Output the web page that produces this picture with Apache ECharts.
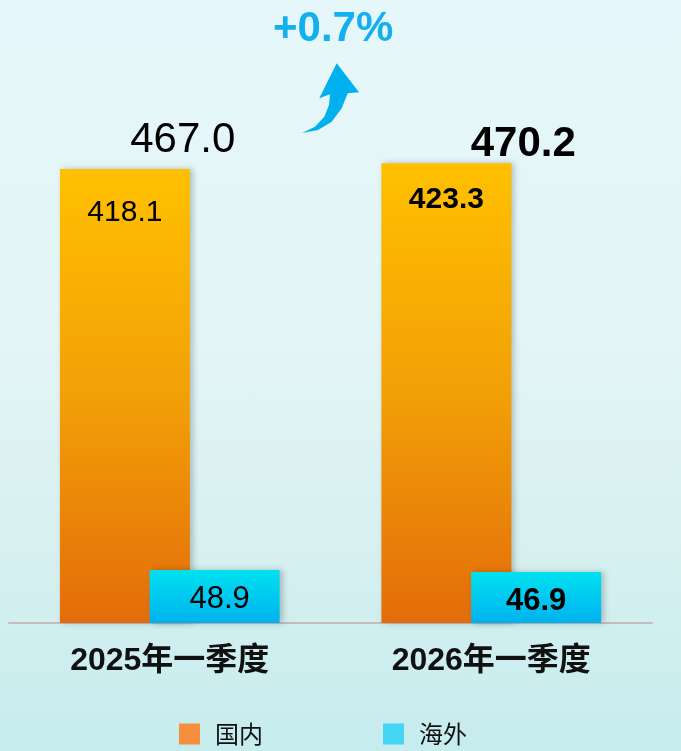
<!DOCTYPE html>
<html>
<head>
    <meta charset="utf-8">
    <title>ECharts</title>
    <script src="https://cdn.jsdelivr.net/npm/echarts@6/dist/echarts.min.js"></script>
    <style>
        html, body { margin: 0; padding: 0; }
        #main {
            width: 681px; height: 751px;
            background: linear-gradient(180deg, #e6f7fb 0%, #e3f5f4 45%, #d6f0f0 75%, #c6ecee 100%);
        }
    </style>
</head>
<body>
    <div id="main"></div>
    <script type="text/javascript">
        // 数据
        var categories = ['2025年一季度', '2026年一季度'];
        var domestic = [418.1, 423.3];
        var overseas = [48.9, 46.9];
        var totals = [467.0, 470.2];
        var growth = '+0.7%';

        var numFont = 'Liberation Sans, Arial, Helvetica, sans-serif';
        var cjkFont = 'Liberation Sans, Noto Sans CJK SC, sans-serif';

        var myChart = echarts.init(document.getElementById('main'));

        function vGradient(stops) {
            return { type: 'linear', x: 0, y: 0, x2: 0, y2: 1, colorStops: stops };
        }
        var orangeFill = vGradient([
            { offset: 0, color: '#ffc000' },
            { offset: 0.5, color: '#f2a007' },
            { offset: 1, color: '#e36c0a' }
        ]);
        var cyanFill = vGradient([
            { offset: 0, color: '#00e1ef' },
            { offset: 1, color: '#00b2ef' }
        ]);
        var barShadow = {
            shadowBlur: 6,
            shadowColor: 'rgba(0,0,0,0.22)',
            shadowOffsetX: 3,
            shadowOffsetY: 0
        };

        // 第一年普通字, 第二年加粗
        var domLabels = [
            { distance: 29, fontWeight: 'normal' },
            { distance: 21, fontWeight: 'bold' }
        ];
        var ovsLabels = [
            { offset: [5, 3], fontWeight: 'normal' },
            { offset: [0, 4], fontWeight: 'bold' }
        ];
        var totLabels = [
            { offset: [13, 25], fontWeight: 'normal' },
            { offset: [32, 32], fontWeight: 'bold' }
        ];

        // 弯曲的增长箭头
        var arrowPoints = [
            [302, 133], [315, 126.7], [324.3, 116.7], [329, 105], [330, 94.3],
            [319.3, 98.3], [336.7, 63.3], [359, 92.3], [347.7, 93.3],
            [341.7, 108.3], [331.7, 121.7], [318, 130]
        ];

        var option = {
            animation: false,
            grid: { left: 9, right: 29, top: 80, bottom: 128 },
            legend: {
                data: [
                    { name: '国内', itemStyle: { color: '#f58e3d' } },
                    { name: '海外', itemStyle: { color: '#45d5f5' } }
                ],
                left: 179,
                top: 722,
                padding: 0,
                itemWidth: 21,
                itemHeight: 21,
                itemGap: 120,
                icon: 'rect',
                textStyle: {
                    fontFamily: 'Noto Sans CJK SC',
                    fontSize: 24,
                    color: '#111',
                    padding: [0, 0, 0, 10]
                }
            },
            xAxis: {
                type: 'category',
                data: categories,
                axisLine: { lineStyle: { color: '#c4bcbc', width: 2 } },
                axisTick: { show: false },
                axisLabel: {
                    margin: 22,
                    fontFamily: cjkFont,
                    fontSize: 32,
                    fontWeight: 'bold',
                    color: '#111'
                }
            },
            yAxis: {
                type: 'value',
                min: 0,
                max: 500,
                show: false,
                splitLine: { show: false }
            },
            series: [
                {
                    name: '国内',
                    type: 'bar',
                    barWidth: 130,
                    barGap: '-31%',
                    itemStyle: Object.assign({ color: orangeFill }, barShadow),
                    data: domestic.map(function (v, i) {
                        return {
                            value: v,
                            label: {
                                show: true,
                                position: 'insideTop',
                                distance: domLabels[i].distance,
                                fontFamily: numFont,
                                fontSize: 30,
                                fontWeight: domLabels[i].fontWeight,
                                color: '#000',
                                formatter: function (p) { return p.value.toFixed(1); }
                            }
                        };
                    })
                },
                {
                    name: '海外',
                    type: 'bar',
                    barWidth: 130,
                    itemStyle: Object.assign({ color: cyanFill }, barShadow),
                    z: 3,
                    data: overseas.map(function (v, i) {
                        return {
                            value: v,
                            label: {
                                show: true,
                                position: 'inside',
                                offset: ovsLabels[i].offset,
                                fontFamily: numFont,
                                fontSize: 31,
                                fontWeight: ovsLabels[i].fontWeight,
                                color: '#000',
                                formatter: function (p) { return p.value.toFixed(1); }
                            }
                        };
                    })
                },
                {
                    name: '合计',
                    type: 'scatter',
                    symbolSize: 0,
                    silent: true,
                    itemStyle: { opacity: 1 },
                    data: totals.map(function (v, i) {
                        return {
                            value: v,
                            label: {
                                show: true,
                                position: 'inside',
                                offset: totLabels[i].offset,
                                fontFamily: numFont,
                                fontSize: 42,
                                fontWeight: totLabels[i].fontWeight,
                                color: '#000',
                                opacity: 1,
                                formatter: function (p) { return p.value.toFixed(1); }
                            }
                        };
                    })
                }
            ],
            graphic: [
                {
                    type: 'text',
                    left: 273,
                    top: 8,
                    style: {
                        text: growth,
                        fontFamily: numFont,
                        fontWeight: 'bold',
                        fontSize: 42,
                        fill: '#12b0ee'
                    }
                },
                {
                    type: 'polygon',
                    shape: { points: arrowPoints },
                    style: { fill: '#00b0ef' }
                }
            ]
        };

        myChart.setOption(option);
    </script>
</body>
</html>
